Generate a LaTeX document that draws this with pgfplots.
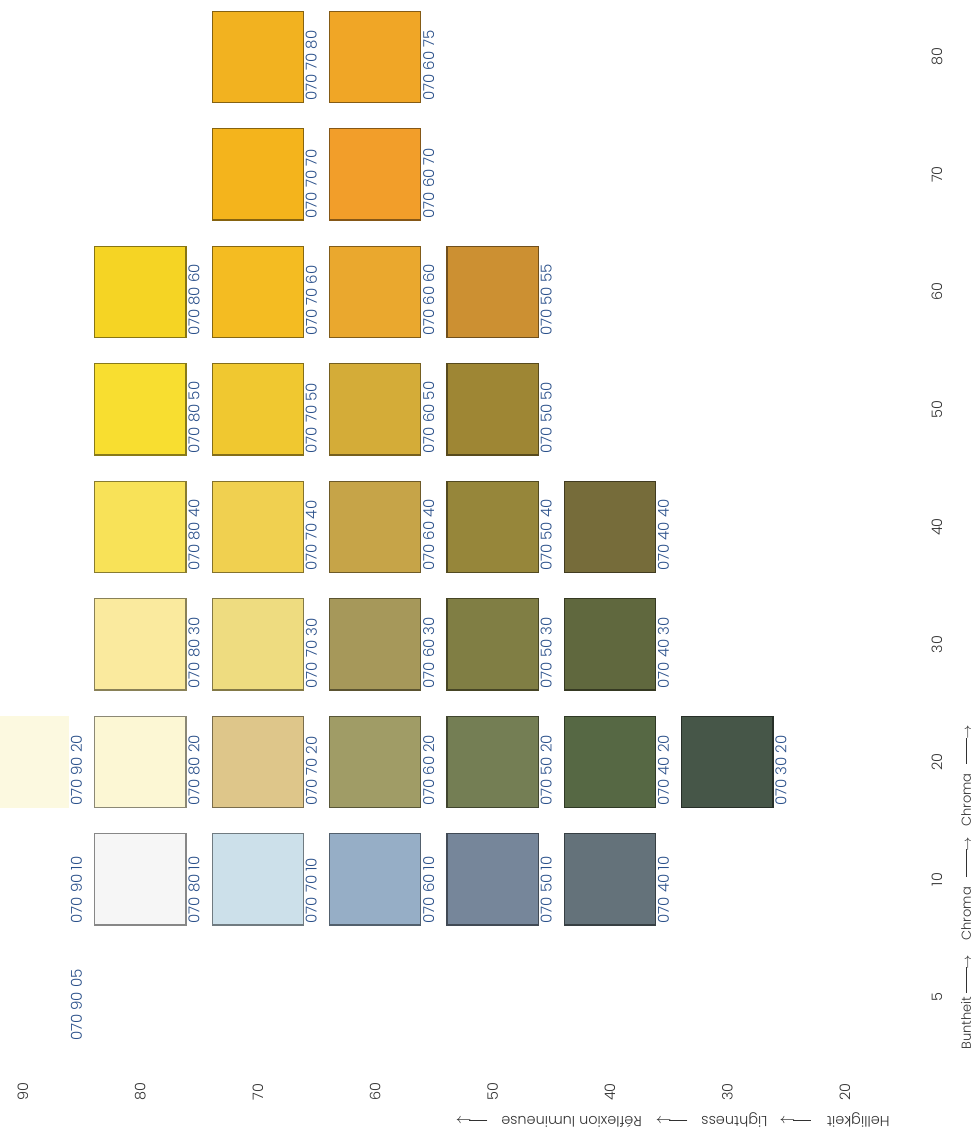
\documentclass[border=0pt]{standalone}
\usepackage{pgfplots}
\pgfplotsset{compat=1.18}
\usepackage{pgfplotstable}
\usepackage{graphicx}
\usepackage{fontspec}
\setmainfont{Poppins}[UprightFont={* Light}]

\definecolor{chiplabel}{RGB}{42,80,138}
\definecolor{ticktext}{RGB}{50,50,50}
\definecolor{palecream}{RGB}{252,249,224}

% thin arrow of given total length
\newcommand{\arr}[1]{\rule[0.52ex]{\dimexpr#1-5pt\relax}{0.35pt}\kern-1.2pt$\rightarrow$}

% Hue 070: lightness L, chroma row index k (5,10,20,...,80 -> 0..8), RGB
\pgfplotstableread{
L  k  col
70 8  242,178,32
60 8  240,166,38
70 7  244,180,28
60 7  242,158,42
80 6  245,212,36
70 6  244,188,34
60 6  234,168,46
50 6  204,144,50
80 5  248,222,48
70 5  240,200,48
60 5  212,172,56
50 5  158,134,52
80 4  248,226,88
70 4  240,208,80
60 4  198,164,72
50 4  150,134,58
40 4  118,108,58
80 3  250,234,158
70 3  238,220,128
60 3  166,152,90
50 3  128,126,68
40 3  96,104,62
80 2  252,247,212
70 2  222,198,138
60 2  160,156,102
50 2  116,126,84
40 2  86,104,68
30 2  70,86,72
80 1  246,246,246
70 1  204,224,234
60 1  150,174,198
50 1  118,134,154
40 1  100,114,122
}\chips

% swatch codes: lightness and chroma after the hue 070
\pgfplotstableread{
L  k  code
70 8  70~80
60 8  60~75
70 7  70~70
60 7  60~70
80 6  80~60
70 6  70~60
60 6  60~60
50 6  50~55
80 5  80~50
70 5  70~50
60 5  60~50
50 5  50~50
80 4  80~40
70 4  70~40
60 4  60~40
50 4  50~40
40 4  40~40
80 3  80~30
70 3  70~30
60 3  60~30
50 3  50~30
40 3  40~30
90 2  90~20
80 2  80~20
70 2  70~20
60 2  60~20
50 2  50~20
40 2  40~20
30 2  30~20
90 1  90~10
80 1  80~10
70 1  70~10
60 1  60~10
50 1  50~10
40 1  40~10
90 0  90~05
}\chipnames

\begin{document}
\begin{tikzpicture}
\begin{axis}[
  scale only axis,
  width=489.5pt, height=569pt,
  x dir=reverse,
  xmin=8.57, xmax=91.96,
  ymin=-1.2, ymax=8.485,
  axis line style={draw=none},
  tick style={draw=none},
  major tick length=0pt,
  xtick={20,30,...,90},
  xticklabels={20,30,40,50,60,70,80,90},
  ytick={0,...,8},
  yticklabels={5,10,20,30,40,50,60,70,80},
  yticklabel pos=right,
  xticklabel style={yshift=23pt, rotate=90, anchor=center,
    font=\fontsize{7.2}{8}\selectfont, text=ticktext},
  yticklabel style={xshift=-21pt, rotate=90, anchor=center,
    font=\fontsize{7.2}{8}\selectfont, text=ticktext},
  xlabel={Helligkeit\hspace{8pt}\arr{14pt}\hspace{6pt}Lightness\hspace{7pt}\arr{14pt}\hspace{7pt}R\'eflexion lumineuse\hspace{7pt}\arr{14pt}},
  every axis x label/.style={at={(axis cs:16.15,-1.047)}, anchor=west, rotate=180,
    inner sep=0pt, font=\fontsize{7.2}{8}\selectfont, text=ticktext},
  ylabel={Buntheit\hspace{2pt}\arr{18pt}\hspace{7pt}Chroma\hspace{5pt}\arr{19pt}\hspace{5pt}Chroma\hspace{5pt}\arr{18pt}},
  every axis y label/.style={at={(axis cs:9.68,-0.451)}, anchor=west, rotate=90,
    inner sep=0pt, font=\fontsize{6.5}{7}\selectfont, text=ticktext},
]

% lightest swatch of the 20 row, cut by the page edge
\addplot[fill=palecream, draw=none]
  coordinates {(86.08,1.6085) (93.92,1.6085) (93.92,2.3915) (86.08,2.3915)};

% colour swatches, each filled with its own RGB value
\addplot[scatter, only marks, mark=square*, mark size=22.8pt,
  point meta=explicit symbolic,
  scatter/@pre marker code/.code={%
    \edef\setchip{\noexpand\definecolor{chipfill}{RGB}{\pgfplotspointmeta}}%
    \setchip
    \scope[draw=chipfill!55!black, fill=chipfill, line width=0.6pt]},
  scatter/@post marker code/.code={\endscope}]
  table[x=L, y=k, meta=col] {\chips};

% swatch codes, set beside each swatch
\addplot[draw=none, mark=none,
  point meta=explicit symbolic,
  nodes near coords={070~\pgfplotspointmeta},
  nodes near coords style={rotate=90, anchor=north west, inner sep=0.8pt,
    text=chiplabel, font=\fontsize{7.5}{8}\selectfont}]
  table[x expr=\thisrow{L}-3.92, y expr=\thisrow{k}-0.3915, meta=code] {\chipnames};

\end{axis}
\end{tikzpicture}
\end{document}
